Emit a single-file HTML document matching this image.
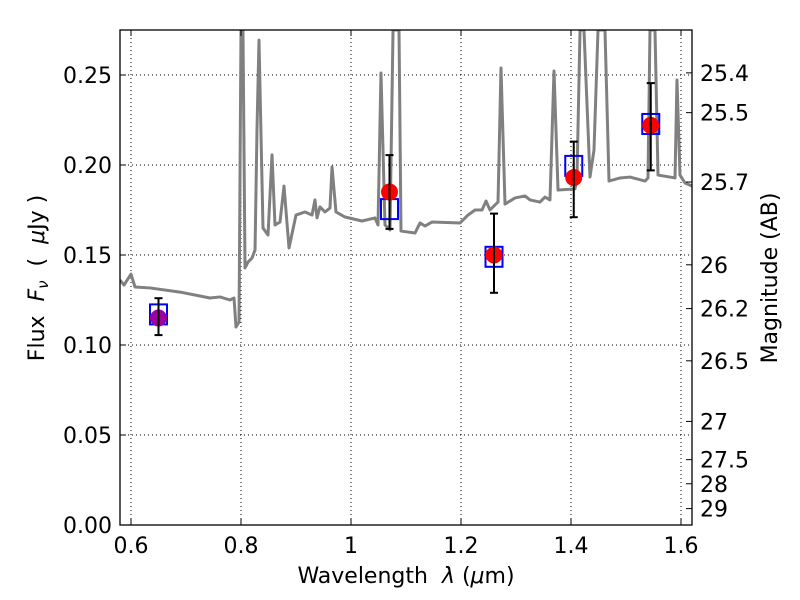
<!DOCTYPE html>
<html><head><meta charset="utf-8"><style>
body{margin:0;background:#fff;}
svg{display:block;font-family:"DejaVu Sans","Liberation Sans",sans-serif;}
</style></head><body>
<svg id="chart" width="800" height="600" xmlns="http://www.w3.org/2000/svg">
<rect width="800" height="600" fill="#fff"/>
<g id="grid"></g>
<g id="spec"></g>
<g id="pts"></g>
<rect x="120" y="30" width="572" height="495" fill="none" stroke="#000" stroke-width="1.3"/>
<g id="axes"></g>
<text x="406" y="583" font-size="22" text-anchor="middle">Wavelength&#160;&#160;<tspan font-style="italic">λ</tspan> (<tspan font-style="italic">μ</tspan>m)</text>
<text transform="translate(44,278) rotate(-90)" font-size="22" text-anchor="middle">Flux&#160;&#160;<tspan font-style="italic">F<tspan font-size="15" dy="4">ν</tspan></tspan><tspan dy="-4">&#160;&#160;(&#160;&#160;</tspan><tspan font-style="italic">μ</tspan>Jy )</text>
<text transform="translate(777,278) rotate(-90)" font-size="22" text-anchor="middle">Magnitude (AB)</text>
</svg>
<script>
const xTicks=[0.6,0.8,1.0,1.2,1.4,1.6];
const xTickLabels=["0.6","0.8","1","1.2","1.4","1.6"];
const yTicks=[0,0.05,0.10,0.15,0.20,0.25];
const yTickLabels=["0.00","0.05","0.10","0.15","0.20","0.25"];
const magTicks=[25.4,25.5,25.7,26,26.2,26.5,27,27.5,28,29];
const magLabels=["25.4","25.5","25.7","26","26.2","26.5","27","27.5","28","29"];
const specWave=[0.5800,0.5873,0.6000,0.6073,0.6345,0.6891,0.7436,0.7618,0.7800,0.7873,0.7909,0.7964,0.8000,0.8036,0.8073,0.8127,0.8200,0.8255,0.8291,0.8327,0.8400,0.8491,0.8564,0.8618,0.8709,0.8782,0.8873,0.9000,0.9164,0.9291,0.9345,0.9382,0.9436,0.9527,0.9618,0.9655,0.9727,0.9891,1.0200,1.0436,1.0491,1.0545,1.0618,1.0709,1.0764,1.0873,1.0909,1.1164,1.1255,1.1345,1.1473,1.1982,1.2127,1.2255,1.2382,1.2455,1.2527,1.2618,1.2673,1.2727,1.2800,1.2982,1.3164,1.3255,1.3436,1.3527,1.3618,1.3691,1.3764,1.4073,1.4109,1.4164,1.4236,1.4345,1.4418,1.4491,1.4618,1.4691,1.4891,1.5073,1.5345,1.5400,1.5436,1.5527,1.5582,1.5800,1.5891,1.5927,1.5982,1.6073,1.6200];
const specFlux=[0.1361,0.1333,0.1394,0.1322,0.1317,0.1294,0.1261,0.1267,0.1250,0.1261,0.1100,0.1128,0.275,0.275,0.1428,0.1461,0.1483,0.1528,0.2200,0.2694,0.1650,0.1611,0.2056,0.1667,0.1683,0.1883,0.1539,0.1722,0.1739,0.1722,0.1806,0.1706,0.1767,0.1739,0.1761,0.1989,0.1739,0.1711,0.1689,0.1706,0.1667,0.2511,0.1667,0.1639,0.275,0.275,0.1633,0.1622,0.1678,0.1661,0.1683,0.1678,0.1722,0.1750,0.1750,0.1800,0.1750,0.1778,0.1794,0.2539,0.1783,0.1817,0.1828,0.1806,0.1794,0.1822,0.1806,0.2522,0.1861,0.1867,0.1933,0.275,0.275,0.1933,0.2083,0.275,0.275,0.1911,0.1928,0.1933,0.1911,0.1928,0.275,0.275,0.1944,0.1933,0.1928,0.2472,0.1944,0.1900,0.1883];
const photWave=[0.65,1.07,1.26,1.405,1.545];
const photFlux=[0.115,0.185,0.150,0.193,0.222];
const errLow=[0.1055,0.1645,0.129,0.171,0.197];
const errHigh=[0.126,0.2055,0.173,0.213,0.2455];
const modelFlux=[0.117,0.1755,0.149,0.1995,0.2228];
const photColors=["#a000a0","#ff0000","#ff0000","#ff0000","#ff0000"];

const X0=0.58,X1=1.62,Y0=0,Y1=0.275,L=120,R=692,T=30,B=525;
const xs=v=>L+(v-X0)/(X1-X0)*(R-L);
const ys=v=>B-(v-Y0)/(Y1-Y0)*(B-T);
const NS='http://www.w3.org/2000/svg';
function mk(tag,attrs,parent){const e=document.createElementNS(NS,tag);for(const k in attrs)e.setAttribute(k,attrs[k]);parent.appendChild(e);return e;}
const grid=document.getElementById('grid'),axes=document.getElementById('axes');
xTicks.forEach((t,i)=>{const x=xs(t);
 const g=mk('line',{x1:x,x2:x,y1:T,y2:B,stroke:'#000','stroke-dasharray':'1,3','stroke-width':1},grid);
 
 mk('line',{x1:x,x2:x,y1:B,y2:B-6,stroke:'#000'},axes);mk('line',{x1:x,x2:x,y1:T,y2:T+6,stroke:'#000'},axes);
 const tx=mk('text',{x:x,y:B+28,'font-size':22,'text-anchor':'middle'},axes);tx.textContent=xTickLabels[i];
 });
yTicks.forEach((t,i)=>{const y=ys(t);
 const g=mk('line',{x1:L,x2:R,y1:y,y2:y,stroke:'#000','stroke-dasharray':'1,3','stroke-width':1},grid);
 
 mk('line',{x1:L,x2:L+6,y1:y,y2:y,stroke:'#000'},axes);
 const tx=mk('text',{x:L-8,y:y+8,'font-size':22,'text-anchor':'end'},axes);tx.textContent=yTickLabels[i];
 });
magTicks.forEach((m,i)=>{const f=Math.pow(10,(23.9-m)/2.5);const y=ys(f);
 mk('line',{x1:R,x2:R-6,y1:y,y2:y,stroke:'#000'},axes);
 const tx=mk('text',{x:R+8,y:y+8,'font-size':22},axes);tx.textContent=magLabels[i];
 });
const cp=mk('clipPath',{id:'cp'},document.getElementById('chart'));mk('rect',{x:L,y:T,width:R-L,height:B-T},cp);
const spec=document.getElementById('spec');
const pl=mk('polyline',{points:specWave.map((w,i)=>xs(w)+','+ys(specFlux[i])).join(' '),fill:'none',stroke:'#808080','stroke-width':3,'stroke-linejoin':'round','clip-path':'url(#cp)'},spec);

const pts=document.getElementById('pts');
photWave.forEach((w,i)=>{const x=xs(w);
 const sq=mk('rect',{x:x-8.5,y:ys(modelFlux[i])-10,width:17,height:20,fill:'none',stroke:'#0000ff','stroke-width':2},pts);
 
 const c=mk('circle',{cx:x,cy:ys(photFlux[i]),r:8.5,fill:photColors[i]},pts);
 
 const e=mk('g',{stroke:'#000','stroke-width':2},pts);
 
 mk('line',{x1:x,x2:x,y1:ys(errLow[i]),y2:ys(errHigh[i])},e);
 mk('line',{x1:x-4,x2:x+4,y1:ys(errLow[i]),y2:ys(errLow[i])},e);
 mk('line',{x1:x-4,x2:x+4,y1:ys(errHigh[i]),y2:ys(errHigh[i])},e);});
</script>
</body></html>
